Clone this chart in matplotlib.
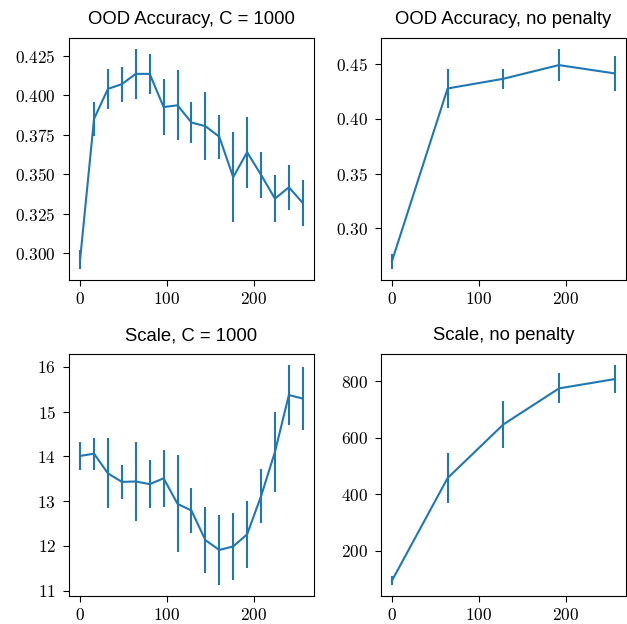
import matplotlib
matplotlib.use('Agg')
import matplotlib.pyplot as plt
from matplotlib.ticker import MultipleLocator

plt.rcParams['font.family'] = 'serif'
plt.rcParams['font.serif'] = ['cmr10']
plt.rcParams['axes.formatter.use_mathtext'] = True

# Steps for the C = 1000 runs and the unpenalised runs
steps_c = [0, 16, 32, 48, 64, 80, 96, 112, 128, 144, 160, 176, 192, 208, 224, 240, 256]
steps_np = [0, 64, 128, 192, 256]

acc_c = [0.296, 0.385, 0.404, 0.407, 0.4135, 0.4135, 0.3925, 0.3936, 0.3827, 0.3804,
         0.3737, 0.3481, 0.3639, 0.3496, 0.3345, 0.3417, 0.3318]
acc_c_err = [0.006, 0.011, 0.0125, 0.011, 0.0157, 0.0125, 0.0177, 0.0222, 0.0128, 0.0215,
             0.014, 0.0283, 0.0224, 0.0146, 0.0148, 0.0144, 0.0145]

acc_np = [0.270, 0.4275, 0.4363, 0.4488, 0.4412]
acc_np_err = [0.007, 0.018, 0.0093, 0.0146, 0.0157]

scale_c = [14.01, 14.06, 13.62, 13.43, 13.44, 13.38, 13.51, 12.94, 12.79, 12.13,
           11.91, 11.99, 12.26, 13.11, 14.10, 15.37, 15.29]
scale_c_err = [0.32, 0.36, 0.78, 0.38, 0.88, 0.53, 0.63, 1.08, 0.50, 0.74,
               0.78, 0.74, 0.75, 0.60, 0.90, 0.67, 0.71]

scale_np = [93, 457, 647, 775, 808]
scale_np_err = [15, 90, 83, 53, 50]

panels = [
    ('OOD Accuracy, C = 1000', steps_c, acc_c, acc_c_err, 0.025),
    ('OOD Accuracy, no penalty', steps_np, acc_np, acc_np_err, 0.05),
    ('Scale, C = 1000', steps_c, scale_c, scale_c_err, 1),
    ('Scale, no penalty', steps_np, scale_np, scale_np_err, 200),
]

fig, axes = plt.subplots(2, 2, figsize=(6.27, 6.24), dpi=100)
fig.subplots_adjust(left=0.110, right=0.998, top=0.939, bottom=0.045,
                    wspace=0.273, hspace=0.306)

for ax, (title, x, y, err, ystep) in zip(axes.flat, panels):
    ax.errorbar(x, y, yerr=err, color='C0')
    ax.set_title(title, family='Liberation Sans', fontsize=13.3, pad=10)
    ax.set_xticks([0, 100, 200])
    ax.yaxis.set_major_locator(MultipleLocator(ystep))
    ax.tick_params(labelsize=12.5, length=4.3)
    ax.tick_params(axis='y', pad=5)
    ax.tick_params(axis='x', pad=3.5)

plt.savefig('out.png')
